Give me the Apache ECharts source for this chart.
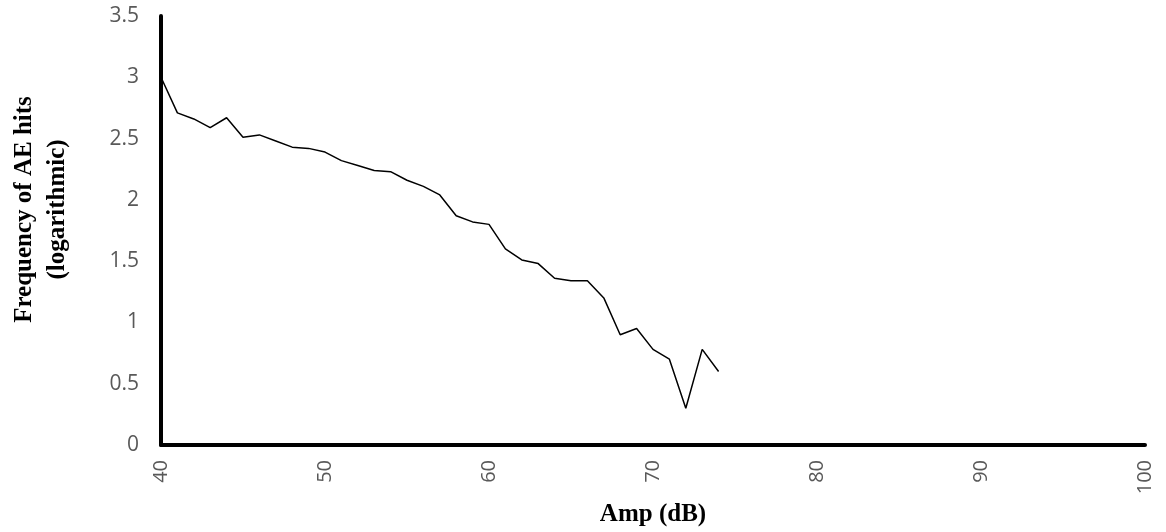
<!DOCTYPE html>
<html>
<head>
<meta charset="utf-8">
<title>AE hits vs amplitude</title>
<script src="https://cdn.jsdelivr.net/npm/echarts@6/dist/echarts.min.js"></script>
<style>
  html, body { margin: 0; padding: 0; background: #ffffff; }
  #chart { width: 1166px; height: 532px; }
</style>
</head>
<body>
<div id="chart"></div>
<script>
// Amplitude bins (dB) and log10 of the hit count in each bin
const amplitudes = [40, 41, 42, 43, 44, 45, 46, 47, 48, 49,
                    50, 51, 52, 53, 54, 55, 56, 57, 58, 59,
                    60, 61, 62, 63, 64, 65, 66, 67, 68, 69,
                    70, 71, 72, 73, 74];
const logHits = [3.00, 2.71, 2.66, 2.59, 2.67, 2.51, 2.53, 2.48, 2.43, 2.42,
                 2.39, 2.32, 2.28, 2.24, 2.23, 2.16, 2.11, 2.04, 1.87, 1.82,
                 1.80, 1.60, 1.51, 1.48, 1.36, 1.34, 1.34, 1.20, 0.90, 0.95,
                 0.78, 0.70, 0.30, 0.78, 0.60];

const xAxisTitle = 'Amp (dB)';
const yAxisTitle = 'Frequency of AE hits\n(logarithmic)';

const chart = echarts.init(document.getElementById('chart'), null, { renderer: 'canvas' });

const labelColor = '#595959';
const titleFont = { fontFamily: 'Liberation Serif', fontWeight: 'bold', fontSize: 25, color: '#000000' };

chart.setOption({
  animation: false,
  backgroundColor: '#ffffff',
  grid: { left: 161, right: 21, top: 16, bottom: 87, containLabel: false, outerBoundsMode: 'none' },
  xAxis: {
    type: 'value',
    min: 40,
    max: 100,
    interval: 10,
    name: xAxisTitle,
    nameLocation: 'middle',
    nameGap: 55,
    nameTextStyle: titleFont,
    axisLine: { show: true, onZero: false, lineStyle: { color: '#000000', width: 4 } },
    axisTick: { show: false },
    splitLine: { show: false },
    axisLabel: {
      rotate: 90,
      margin: 15,
      color: labelColor,
      fontFamily: 'Open Sans',
      fontSize: 20
    }
  },
  yAxis: {
    type: 'value',
    min: 0,
    max: 3.5,
    interval: 0.5,
    name: yAxisTitle,
    nameLocation: 'middle',
    nameGap: 87,
    nameTextStyle: Object.assign({}, titleFont, { lineHeight: 33, padding: [0, 0, 0, 42] }),
    axisLine: { show: true, lineStyle: { color: '#000000', width: 4 } },
    axisTick: { show: false },
    splitLine: { show: false },
    axisLabel: {
      margin: 22,
      color: labelColor,
      fontFamily: 'Open Sans',
      fontSize: 21
    }
  },
  series: [{
    type: 'line',
    data: amplitudes.map((a, i) => [a, logHits[i]]),
    showSymbol: false,
    symbol: 'none',
    lineStyle: { color: '#000000', width: 1.5 },
    silent: true
  }]
});
</script>
</body>
</html>
